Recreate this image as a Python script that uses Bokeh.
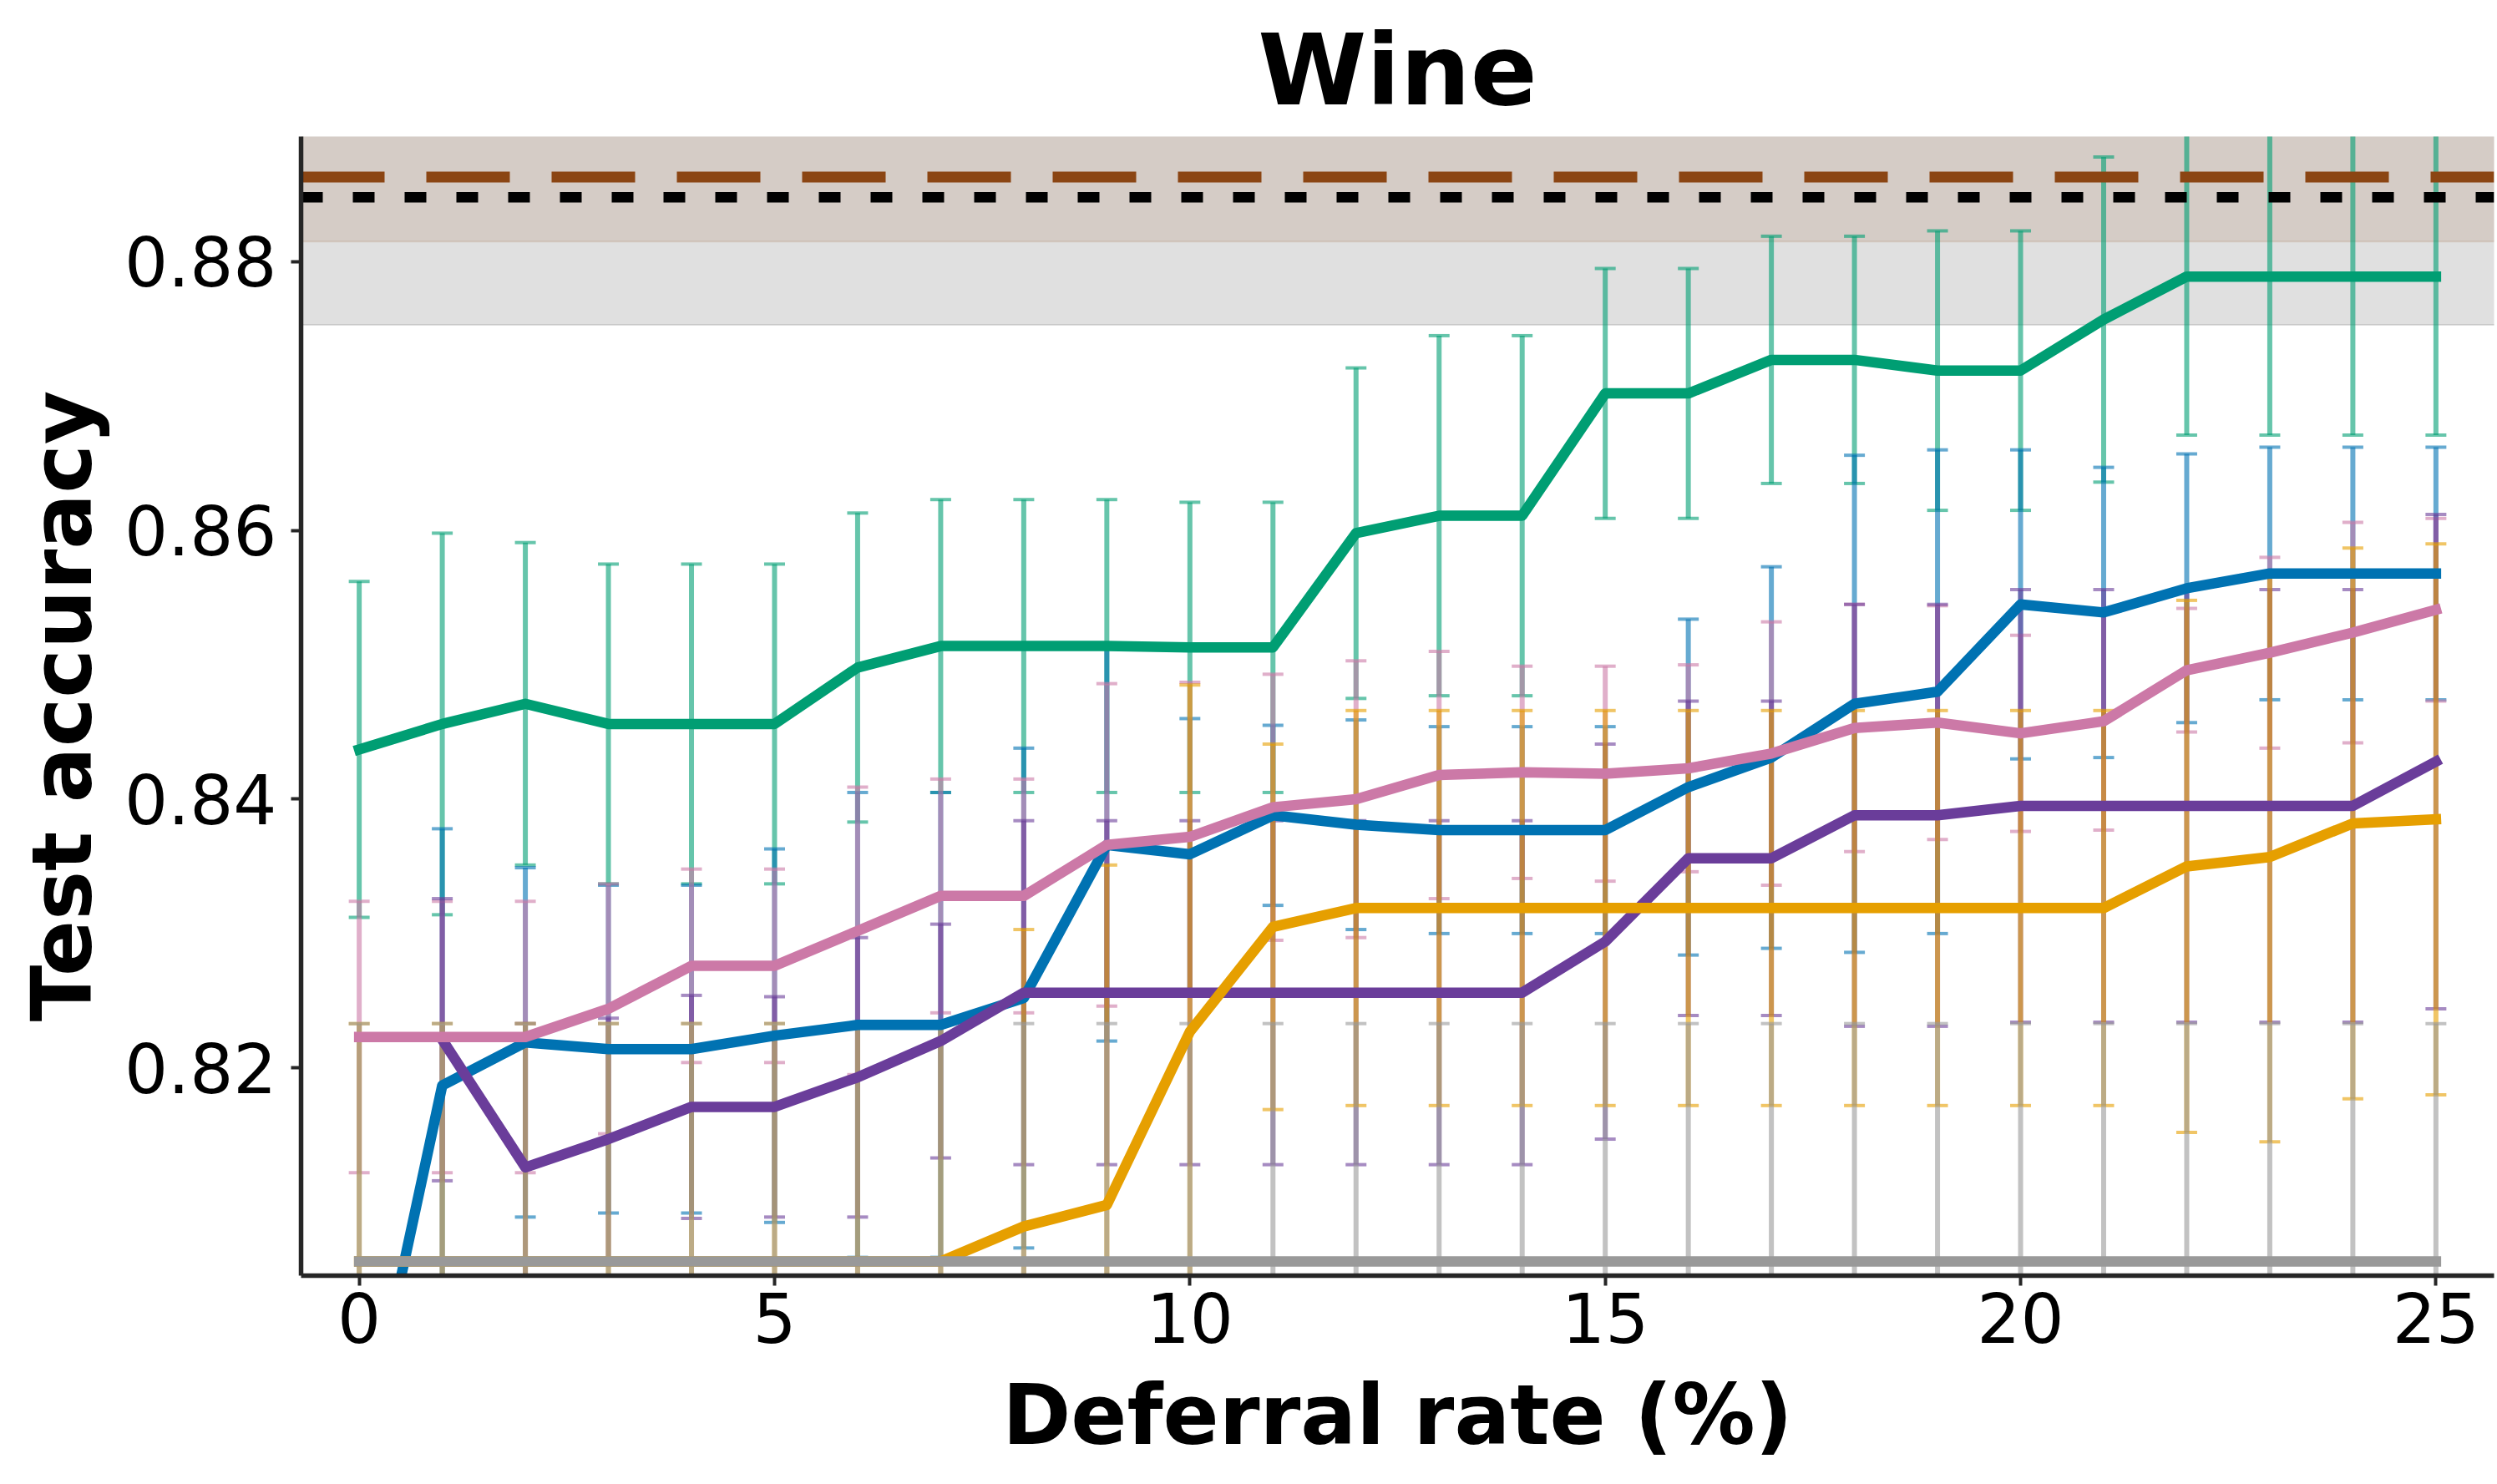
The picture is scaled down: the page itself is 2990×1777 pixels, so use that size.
from bokeh.plotting import figure
from bokeh.models import Range1d, FixedTicker, Title
from bokeh.embed import file_html
from bokeh.resources import INLINE

# Deferral rate (%) on the x axis
deferral = list(range(26))

# Mean test accuracy and its spread for each method
green_mean = [0.8437, 0.8456, 0.8471, 0.8456, 0.8456, 0.8456, 0.8498, 0.8514, 0.8514, 0.8514,
              0.8513, 0.8513, 0.8598, 0.8611, 0.8611, 0.8702, 0.8702, 0.8727, 0.8727, 0.8719,
              0.8719, 0.8757, 0.8789, 0.8789, 0.8789, 0.8789]
green_std = [0.0125, 0.0142, 0.0120, 0.0119, 0.0119, 0.0119, 0.0115, 0.0109, 0.0109, 0.0109,
             0.0108, 0.0108, 0.0123, 0.0134, 0.0134, 0.0093, 0.0093, 0.0092, 0.0092, 0.0104,
             0.0104, 0.0121, 0.0118, 0.0118, 0.0118, 0.0118]

blue_mean = [0.7900, 0.8187, 0.8219, 0.8214, 0.8214, 0.8224, 0.8232, 0.8232, 0.8252, 0.8366,
             0.8359, 0.8388, 0.8381, 0.8377, 0.8377, 0.8377, 0.8409, 0.8431, 0.8471, 0.8480,
             0.8545, 0.8539, 0.8557, 0.8568, 0.8568, 0.8568]
blue_std = [0.0120, 0.0191, 0.0130, 0.0122, 0.0122, 0.0139, 0.0173, 0.0173, 0.0186, 0.0146,
            0.0101, 0.0067, 0.0078, 0.0077, 0.0077, 0.0077, 0.0125, 0.0142, 0.0185, 0.0180,
            0.0115, 0.0108, 0.0100, 0.0094, 0.0094, 0.0094]

pink_mean = [0.8223, 0.8223, 0.8223, 0.8244, 0.8276, 0.8276, 0.8302, 0.8328, 0.8328, 0.8366,
             0.8372, 0.8394, 0.8400, 0.8418, 0.8420, 0.8419, 0.8423, 0.8434, 0.8453, 0.8457,
             0.8449, 0.8458, 0.8496, 0.8509, 0.8524, 0.8541]
pink_std = [0.0101, 0.0101, 0.0101, 0.0093, 0.0072, 0.0072, 0.0107, 0.0087, 0.0087, 0.0120,
            0.0115, 0.0099, 0.0103, 0.0092, 0.0079, 0.0080, 0.0077, 0.0098, 0.0092, 0.0087,
            0.0073, 0.0081, 0.0046, 0.0071, 0.0082, 0.0068]

# this method starts at 1 % deferral
purple_x = list(range(1, 26))
purple_mean = [0.8221, 0.8126, 0.8147, 0.8171, 0.8171, 0.8193, 0.8220, 0.8256, 0.8256, 0.8256,
               0.8256, 0.8256, 0.8256, 0.8256, 0.8294, 0.8356, 0.8356, 0.8388, 0.8388, 0.8395,
               0.8395, 0.8395, 0.8395, 0.8395, 0.8428]
purple_std = [0.0105, 0.0107, 0.0090, 0.0083, 0.0082, 0.0104, 0.0087, 0.0128, 0.0128, 0.0128,
              0.0128, 0.0128, 0.0128, 0.0128, 0.0147, 0.0117, 0.0117, 0.0157, 0.0157, 0.0161,
              0.0161, 0.0161, 0.0161, 0.0161, 0.0184]

orange_mean = [0.8056, 0.8056, 0.8056, 0.8056, 0.8056, 0.8056, 0.8056, 0.8056, 0.8082, 0.8098,
               0.8227, 0.8305, 0.8319, 0.8319, 0.8319, 0.8319, 0.8319, 0.8319, 0.8319, 0.8319,
               0.8319, 0.8319, 0.8350, 0.8357, 0.8382, 0.8385]
orange_std = [0.0177, 0.0177, 0.0177, 0.0177, 0.0177, 0.0177, 0.0177, 0.0177, 0.0221, 0.0253,
              0.0258, 0.0136, 0.0147, 0.0147, 0.0147, 0.0147, 0.0147, 0.0147, 0.0147, 0.0147,
              0.0147, 0.0147, 0.0198, 0.0212, 0.0205, 0.0205]

gray_mean = [0.8056, 0.8056, 0.8056, 0.8056, 0.8056, 0.8056, 0.8056, 0.8056, 0.8056, 0.8056,
             0.8056, 0.8056, 0.8056, 0.8056, 0.8056, 0.8056, 0.8056, 0.8056, 0.8056, 0.8056,
             0.8056, 0.8056, 0.8056, 0.8056, 0.8056, 0.8056]
gray_std = [0.0177, 0.0177, 0.0177, 0.0177, 0.0177, 0.0177, 0.0177, 0.0177, 0.0177, 0.0177,
            0.0177, 0.0177, 0.0177, 0.0177, 0.0177, 0.0177, 0.0177, 0.0177, 0.0177, 0.0177,
            0.0177, 0.0177, 0.0177, 0.0177, 0.0177, 0.0177]

# Horizontal reference levels with their spread bands
ref_black_mean, ref_black_std = 0.8848, 0.0095
ref_brown_mean, ref_brown_std = 0.8863, 0.0048

x_ticks = [0, 5, 10, 15, 20, 25]
y_ticks = [0.82, 0.84, 0.86, 0.88]

GREEN = "#009E73"
BLUE = "#0072B2"
PINK = "#CC79A7"
PURPLE = "#6A3D9A"
ORANGE = "#E69F00"
GRAY = "#999999"
BROWN = "#8B4513"
FONT = "DejaVu Sans"

X0, X1 = -0.7, 25.7
Y0, Y1 = 0.80454, 0.88932

p = figure(width=2990, height=1777, output_backend="svg", toolbar_location=None,
           x_range=Range1d(X0, X1), y_range=Range1d(Y0, Y1),
           min_border_left=360, min_border_right=4, min_border_top=163, min_border_bottom=250)
p.background_fill_color = "white"
p.border_fill_color = "white"
p.outline_line_color = None
p.grid.visible = False

# reference bands
p.quad(left=X0 - 1, right=X1 + 1,
       bottom=ref_black_mean - ref_black_std, top=ref_black_mean + ref_black_std,
       fill_color="#808080", fill_alpha=0.245, line_color="#808080", line_alpha=0.245, line_width=2)
p.quad(left=X0 - 1, right=X1 + 1,
       bottom=ref_brown_mean - ref_brown_std, top=ref_brown_mean + ref_brown_std,
       fill_color=BROWN, fill_alpha=0.12, line_color=BROWN, line_alpha=0.12, line_width=2)


def error_bars(xs, mean, std, color):
    lo = [m - s for m, s in zip(mean, std)]
    hi = [m + s for m, s in zip(mean, std)]
    p.segment(x0=xs, y0=lo, x1=xs, y1=hi, line_color=color, line_alpha=0.6, line_width=6)
    p.rect(x=list(xs) + list(xs), y=lo + hi, width=25, height=4,
           width_units="screen", height_units="screen",
           fill_color=color, fill_alpha=0.6, line_color=None)


error_bars(deferral, green_mean, green_std, GREEN)
error_bars(deferral, blue_mean, blue_std, BLUE)
error_bars(deferral, pink_mean, pink_std, PINK)
error_bars(purple_x, purple_mean, purple_std, PURPLE)
error_bars(deferral, orange_mean, orange_std, ORANGE)
error_bars(deferral, gray_mean, gray_std, GRAY)

LW = 12.5
for xs, ys, c in [(deferral, blue_mean, BLUE), (purple_x, purple_mean, PURPLE),
                  (deferral, pink_mean, PINK), (deferral, orange_mean, ORANGE),
                  (deferral, gray_mean, GRAY), (deferral, green_mean, GREEN)]:
    p.line(xs, ys, line_color=c, line_width=LW, line_cap="square", line_join="round")

# reference levels
p.line([X0, X1], [ref_brown_mean, ref_brown_mean], line_color=BROWN, line_width=13,
       line_dash="100 50")
p.line([X0, X1], [ref_black_mean, ref_black_mean], line_color="black", line_width=12.5,
       line_dash="26 36")

# axes
p.xaxis.ticker = FixedTicker(ticks=x_ticks)
p.yaxis.ticker = FixedTicker(ticks=y_ticks)
for ax in (p.xaxis[0], p.yaxis[0]):
    ax.axis_line_color = "#262626"
    ax.axis_line_width = 5.5
    ax.major_tick_line_color = "#262626"
    ax.major_tick_line_width = 4
    ax.major_tick_out = 12
    ax.major_tick_in = 0
    ax.minor_tick_line_color = None
    ax.major_label_text_font = FONT
    ax.major_label_text_font_size = "82px"
    ax.major_label_text_color = "black"
p.xaxis.major_label_standoff = 8
p.yaxis.major_label_standoff = 17

p.title.text = "Wine"
p.title.text_font = FONT
p.title.text_font_style = "bold"
p.title.text_font_size = "118px"
p.title.text_color = "black"
p.title.align = "center"
p.title.standoff = 22

# bold axis titles in the side panels
p.add_layout(Title(text="Deferral rate (%)", align="center", text_font=FONT,
                   text_font_style="bold", text_font_size="99px", text_color="black",
                   standoff=48), "below")
p.add_layout(Title(text="Test accuracy", align="center", text_font=FONT,
                   text_font_style="bold", text_font_size="99px", text_color="black",
                   standoff=28), "left")

open("out.html", "w").write(file_html(p, INLINE))
